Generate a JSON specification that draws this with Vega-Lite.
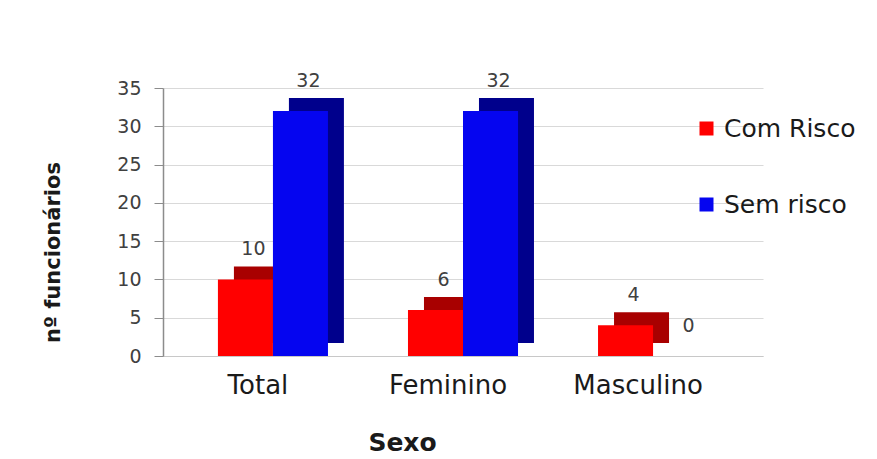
{
  "$schema": "https://vega.github.io/schema/vega-lite/v6.json",
  "width": 600,
  "height": 268,
  "autosize": "none",
  "padding": {"left": 163, "top": 88, "right": 114, "bottom": 103},
  "background": "white",
  "config": {
    "font": "DejaVu Sans",
    "view": {"stroke": null}
  },
  "data": {
    "values": [
      {"sexo": "Total", "grupo": "Com Risco", "n": 10},
      {"sexo": "Total", "grupo": "Sem risco", "n": 32},
      {"sexo": "Feminino", "grupo": "Com Risco", "n": 6},
      {"sexo": "Feminino", "grupo": "Sem risco", "n": 32},
      {"sexo": "Masculino", "grupo": "Com Risco", "n": 4},
      {"sexo": "Masculino", "grupo": "Sem risco", "n": 0}
    ]
  },
  "encoding": {
    "x": {
      "field": "sexo",
      "type": "nominal",
      "sort": ["Total", "Feminino", "Masculino"],
      "scale": {"paddingInner": 0.421, "paddingOuter": 0.289},
      "axis": {
        "labelAngle": 0,
        "labelFontSize": 26,
        "labelColor": "#1a1a1a",
        "labelPadding": 16,
        "labelOffset": -15,
        "ticks": false,
        "domainColor": "#c8c8c8",
        "title": "Sexo",
        "titleFontSize": 25,
        "titleFontWeight": "bold",
        "titleColor": "#1a1a1a",
        "titleX": 239,
        "titleY": 86,
        "titleBaseline": "middle"
      }
    },
    "y": {
      "field": "n",
      "type": "quantitative",
      "scale": {"domain": [0, 35], "nice": false},
      "axis": {
        "values": [0, 5, 10, 15, 20, 25, 30, 35],
        "labelFontSize": 19,
        "labelColor": "#404040",
        "labelPadding": 13,
        "tickSize": 9,
        "tickColor": "#8c8c8c",
        "domainColor": "#8c8c8c",
        "domainWidth": 1.5,
        "gridColor": "#d9d9d9",
        "title": "nº funcionários",
        "titleFontSize": 21,
        "titleFontWeight": "bold",
        "titleColor": "#1a1a1a",
        "titleX": -110,
        "titleY": 164,
        "titleBaseline": "middle"
      }
    }
  },
  "resolve": {"scale": {"xOffset": "independent"}},
  "layer": [
    {
      "mark": {"type": "bar", "yOffset": -13},
      "encoding": {
        "xOffset": {
          "field": "grupo",
          "sort": ["Com Risco", "Sem risco"],
          "scale": {"range": [16, 126], "paddingInner": 0, "paddingOuter": 0}
        },
        "fill": {
          "condition": {"test": "datum.grupo === 'Com Risco'", "value": "#a80000"},
          "value": "#00008c"
        }
      }
    },
    {
      "mark": {"type": "bar"},
      "encoding": {
        "xOffset": {
          "field": "grupo",
          "sort": ["Com Risco", "Sem risco"],
          "scale": {"paddingInner": 0, "paddingOuter": 0}
        },
        "color": {
          "field": "grupo",
          "title": null,
          "scale": {"domain": ["Com Risco", "Sem risco"], "range": ["#ff0000", "#0505f0"]},
          "legend": {
            "orient": "none",
            "legendX": 531,
            "legendY": 28,
            "symbolType": "square",
            "symbolSize": 196,
            "symbolStrokeWidth": 0,
            "labelFontSize": 25,
            "labelColor": "#1a1a1a",
            "labelOffset": 5,
            "rowPadding": 50,
            "padding": 0
          }
        }
      }
    },
    {
      "mark": {"type": "text", "fontSize": 19, "color": "#404040", "dx": 8, "dy": -24, "baseline": "alphabetic"},
      "encoding": {
        "xOffset": {
          "field": "grupo",
          "sort": ["Com Risco", "Sem risco"],
          "scale": {"type": "band", "paddingInner": 0, "paddingOuter": 0}
        },
        "text": {"field": "n", "type": "quantitative"}
      }
    }
  ]
}
